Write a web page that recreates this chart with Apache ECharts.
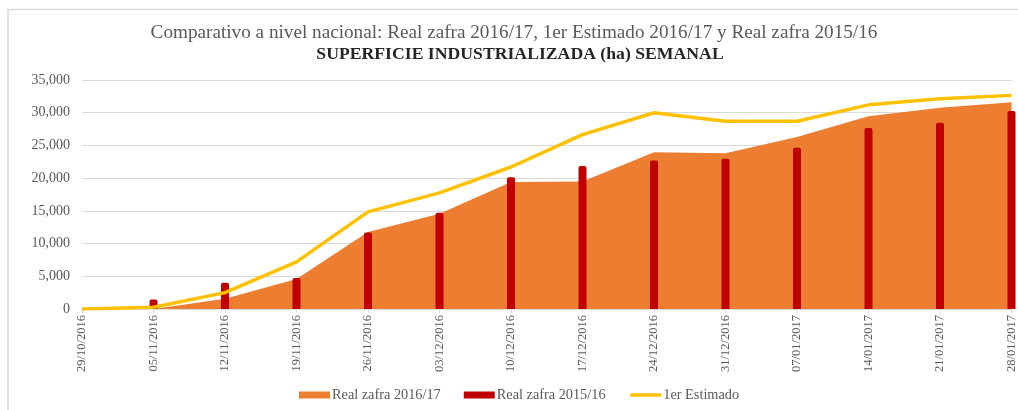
<!DOCTYPE html>
<html>
<head>
<meta charset="utf-8">
<script src="https://cdn.jsdelivr.net/npm/echarts@6/dist/echarts.min.js"></script>
<style>
html,body{margin:0;padding:0;background:#fff;}
#chart{width:1018px;height:410px;}
</style>
</head>
<body>
<div id="chart"></div>
<script>
const categories = ['29/10/2016','05/11/2016','12/11/2016','19/11/2016','26/11/2016','03/12/2016','10/12/2016','17/12/2016','24/12/2016','31/12/2016','07/01/2017','14/01/2017','21/01/2017','28/01/2017'];
const real201617 = [0, 0, 1550, 4600, 11750, 14550, 19400, 19500, 23950, 23800, 26300, 29450, 30750, 31600];
const real201516 = [0, 1450, 4000, 4750, 11700, 14700, 20150, 21850, 22700, 22950, 24650, 27650, 28450, 30250];
const estimado = [0, 280, 2500, 7200, 14850, 17750, 21700, 26650, 30000, 28700, 28700, 31200, 32150, 32650];
const yTicks = {min: 0, max: 35000, interval: 5000};

const FONT = '"Liberation Serif", "Times New Roman", serif';
const chart = echarts.init(document.getElementById('chart'));
chart.setOption({
  animation: false,
  backgroundColor: '#fff',
  textStyle: {fontFamily: FONT},
  title: [{
    text: 'Comparativo a nivel nacional: Real zafra 2016/17, 1er Estimado 2016/17 y Real zafra 2015/16',
    left: 509, top: 18, textAlign: 'center',
    textStyle: {fontFamily: FONT, fontSize: 19.2, fontWeight: 'normal', color: '#595959'}
  }, {
    text: 'SUPERFICIE INDUSTRIALIZADA (ha) SEMANAL',
    left: 515, top: 40, textAlign: 'center',
    textStyle: {fontFamily: FONT, fontSize: 17.7, fontWeight: 'bold', color: '#262626'}
  }],
  graphic: [
    {type: 'line', shape: {x1: 8, y1: 9.5, x2: 1018, y2: 9.5}, style: {stroke: '#D9D9D9', lineWidth: 1.5}},
    {type: 'line', shape: {x1: 8, y1: 9, x2: 8, y2: 410}, style: {stroke: '#D9D9D9', lineWidth: 1.5}}
  ],
  legend: {
    left: 299, top: 388, padding: 0,
    itemGap: 23, itemWidth: 31, itemHeight: 7,
    textStyle: {fontFamily: FONT, fontSize: 14.3, color: '#595959', padding: [0,0,0,-3]},
    data: [
      {name: 'Real zafra 2016/17', icon: 'rect'},
      {name: 'Real zafra 2015/16', icon: 'rect'},
      {name: '1er Estimado', itemStyle: {opacity: 0}, lineStyle: {width: 3.5, color: '#FFC000'}}
    ]
  },
  grid: {left: 82, right: 5, top: 80, bottom: 101},
  xAxis: {
    type: 'category', data: categories, boundaryGap: false,
    axisLine: {lineStyle: {color: '#D9D9D9'}},
    axisTick: {show: true, length: 4, lineStyle: {color: '#D9D9D9'}},
    axisLabel: {rotate: 90, fontFamily: FONT, fontSize: 12.5, color: '#595959', margin: 6, interval: 0}
  },
  yAxis: {
    type: 'value', min: yTicks.min, max: yTicks.max, interval: yTicks.interval,
    axisLine: {show: false}, axisTick: {show: false},
    splitLine: {lineStyle: {color: '#D9D9D9'}},
    axisLabel: {fontFamily: FONT, fontSize: 14, color: '#595959', margin: 12,
      formatter: v => v.toLocaleString('en-US')}
  },
  series: [
    {name: 'Real zafra 2016/17', type: 'line', data: real201617, symbol: 'none',
      lineStyle: {width: 0}, itemStyle: {color: '#ED7D31'},
      areaStyle: {color: '#ED7D31', opacity: 1}, z: 1},
    {name: 'Real zafra 2015/16', type: 'bar', data: real201516, barWidth: 8,
      itemStyle: {color: '#C00000', borderRadius: [2,2,0,0]}, z: 2},
    {name: '1er Estimado', type: 'line', data: estimado, symbol: 'none',
      lineStyle: {width: 3.5, color: '#FFC000'}, itemStyle: {color: '#FFC000'}, z: 3}
  ]
});
</script>
</body>
</html>
